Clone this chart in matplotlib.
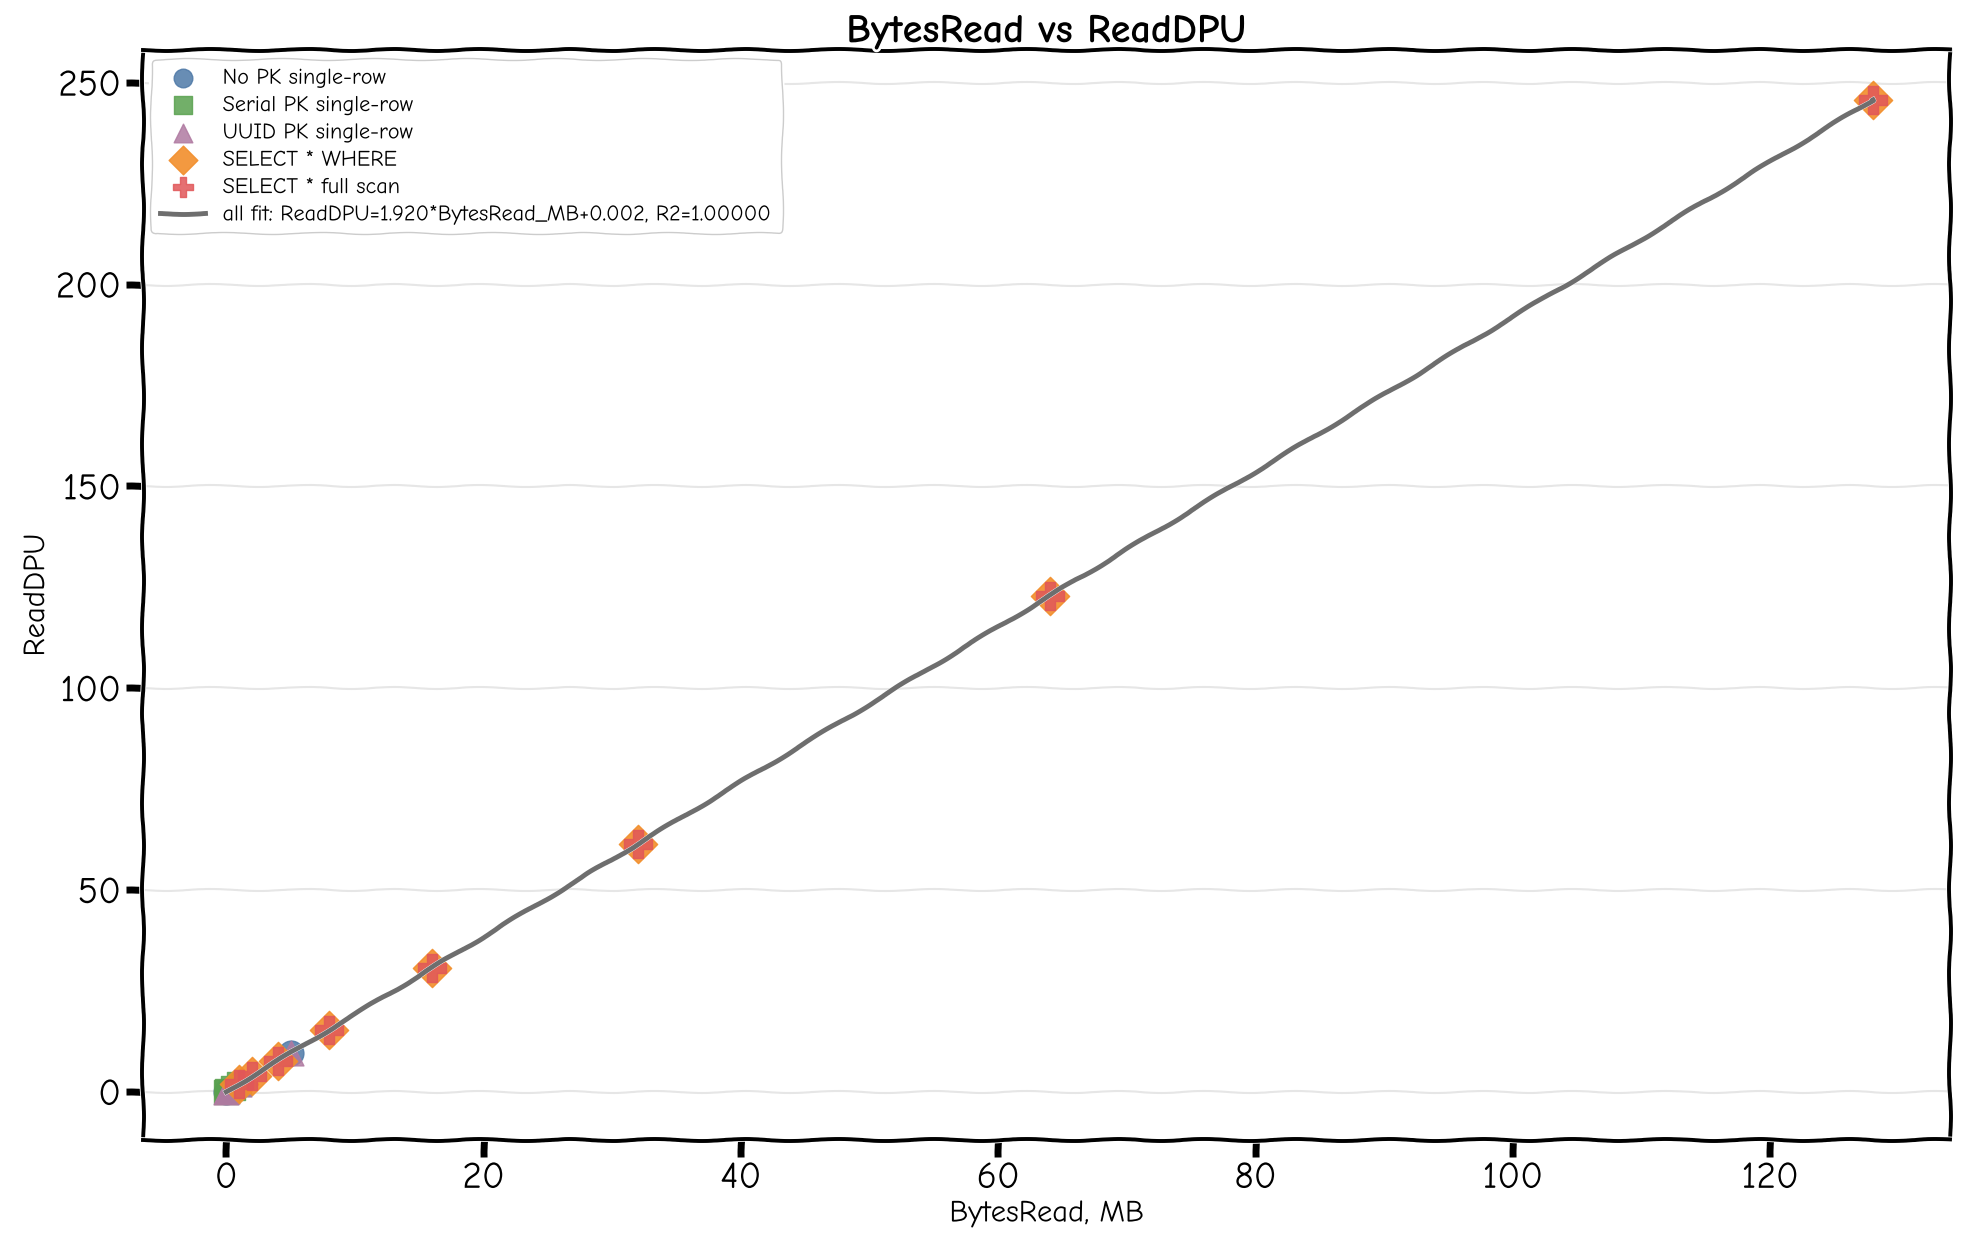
import matplotlib
matplotlib.use("Agg")
import matplotlib.pyplot as plt
import numpy as np

nopk_x = [0.01, 0.1, 1.0, 5.0]
nopk_y = [0.02, 0.19, 1.92, 9.6]
serial_x = [0.01, 0.1, 0.5, 1.0]
serial_y = [0.02, 0.19, 0.96, 1.92]
uuid_x = [0.01, 0.1, 1.0, 5.0]
uuid_y = [0.02, 0.19, 1.92, 9.6]
where_x = [1, 2, 4, 8, 16, 32, 64, 128]
where_y = [1.92, 3.84, 7.68, 15.36, 30.72, 61.44, 122.88, 245.76]
scan_x = [1, 2, 4, 8, 16, 32, 64, 128]
scan_y = [1.92, 3.84, 7.68, 15.36, 30.72, 61.44, 122.88, 245.76]
fit_slope, fit_icpt = 1.920, 0.002

with plt.xkcd(scale=1, length=100, randomness=2):
    plt.rcParams['font.family'] = ['Comic Neue', 'Lato', 'DejaVu Sans']
    fig, ax = plt.subplots(figsize=(19.8, 12.6), dpi=100)
    ax.grid(axis='y', color='#e6e6e6', lw=1.5)
    ax.set_axisbelow(True)
    ax.scatter(nopk_x, nopk_y, s=320, marker='o', color='#4e79a7', alpha=0.85, label='No PK single-row', zorder=3)
    ax.scatter(serial_x, serial_y, s=320, marker='s', color='#59a14f', alpha=0.85, label='Serial PK single-row', zorder=3)
    ax.scatter(uuid_x, uuid_y, s=320, marker='^', color='#b07aa1', alpha=0.85, label='UUID PK single-row', zorder=3)
    ax.scatter(where_x, where_y, s=380, marker='D', color='#f28e2b', alpha=0.9, label='SELECT * WHERE', zorder=3)
    ax.scatter(scan_x, scan_y, s=380, marker='P', color='#e15759', alpha=0.85, label='SELECT * full scan', zorder=3)
    xs = np.linspace(0, 128, 200)
    ax.plot(xs, fit_slope * xs + fit_icpt, color='#6e6e6e', lw=3.5,
            label=f'all fit: ReadDPU={fit_slope:.3f}*BytesRead_MB+{fit_icpt:.3f}, R2=1.00000', zorder=4)
    ax.set_xlim(-6.5, 134)
    ax.set_ylim(-12, 258)
    ax.set_xticks([0, 20, 40, 60, 80, 100, 120])
    ax.set_yticks([0, 50, 100, 150, 200, 250])
    for s in ax.spines.values():
        s.set_linewidth(2.8)
    ax.tick_params(labelsize=27, width=5, length=12)
    ax.set_xlabel('BytesRead, MB', fontsize=22)
    ax.set_ylabel('ReadDPU', fontsize=22)
    ax.set_title('BytesRead vs ReadDPU', fontsize=29, fontweight='bold')
    ax.legend(loc='upper left', fontsize=16, framealpha=1, markerscale=0.75,
              labelspacing=0.35, borderaxespad=0.4)
    fig.subplots_adjust(left=0.072, right=0.985, top=0.96, bottom=0.095)
    fig.savefig('out.png', dpi=100)
